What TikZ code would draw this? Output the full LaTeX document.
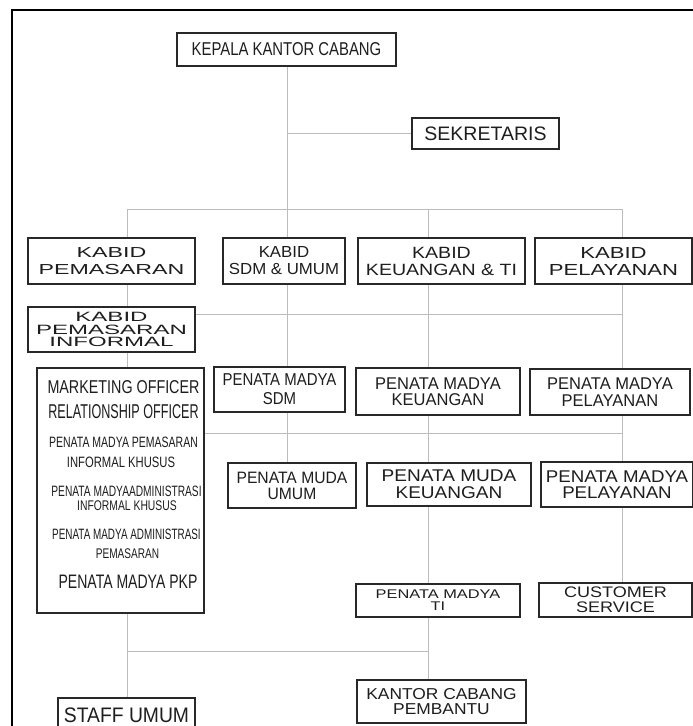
\documentclass[tikz,border=0pt]{standalone}
\usepackage{fontspec}
\setmainfont{Liberation Sans}
\usepackage{tikz}
\definecolor{boxLine}{RGB}{40,40,40}
\definecolor{linkGray}{RGB}{188,188,188}
\definecolor{inkGray}{RGB}{30,30,30}
\newcommand{\orgfont}[3]{\fontspec[FakeStretch=#1]{Liberation Sans}\fontsize{#2}{#3}\selectfont}
\tikzset{
  unit/.style={draw=boxLine, line width=1.4pt, fill=white, text=inkGray, align=center, inner sep=0pt},
  link/.style={draw=linkGray, line width=0.9pt},
  item/.style={anchor=base, inner sep=0pt, text=inkGray}
}

\begin{document}
\begin{tikzpicture}[x=1pt, y=-1pt]
	\useasboundingbox (0,0) rectangle (693,726);
	\clip (0,0) rectangle (693,726);
	\fill[white] (0,0) rectangle (693,726);
	\draw[black, line width=2pt] (12,10) rectangle (720,760);

	% top
	\node[unit, minimum width=219pt, minimum height=33pt, font=\orgfont{0.8}{18.6}{20}] (kepala) at (286.5,49.5) {KEPALA KANTOR CABANG};
	\node[unit, minimum width=147pt, minimum height=31pt, font=\orgfont{1.0}{19.5}{20}] (sekretaris) at (485.5,133.5) {SEKRETARIS};

	% kabid row
	\node[unit, minimum width=167pt, minimum height=46pt, font=\orgfont{1.6}{14.5}{17}] (kpem) at (111.5,261) {KABID\\PEMASARAN};
	\node[unit, minimum width=122pt, minimum height=46pt, font=\orgfont{1.05}{16}{17}] (ksdm) at (284,261) {KABID\\SDM \& UMUM};
	\node[unit, minimum width=167pt, minimum height=46pt, font=\orgfont{1.2}{16.3}{17}] (kkeu) at (441.5,261) {KABID\\KEUANGAN \& TI};
	\node[unit, minimum width=157pt, minimum height=46pt, font=\orgfont{1.38}{16}{17}] (kpel) at (613.5,261) {KABID\\PELAYANAN};
	\node[unit, minimum width=167pt, minimum height=45pt, font=\orgfont{1.78}{13.5}{12.6}] (kinf) at (111.5,329.5) {KABID\\PEMASARAN\\INFORMAL};

	% penata madya row
	\node[unit, minimum width=167pt, minimum height=245pt] (pemlist) at (120.5,490.5) {};
	\node[unit, minimum width=131pt, minimum height=45pt, font=\orgfont{0.87}{17.2}{19}] (pmsdm) at (279.5,389.5) {PENATA MADYA\\SDM};
	\node[unit, minimum width=164pt, minimum height=47pt, font=\orgfont{0.97}{17}{16.5}] (pmkeu) at (438,391.5) {PENATA MADYA\\KEUANGAN};
	\node[unit, minimum width=160pt, minimum height=46pt, font=\orgfont{0.97}{17}{16.5}] (pmpel) at (610,392) {PENATA MADYA\\PELAYANAN};

	% penata muda row
	\node[unit, minimum width=128pt, minimum height=45pt, font=\orgfont{0.95}{16.5}{16}] (pmumum) at (292,485.5) {PENATA MUDA\\UMUM};
	\node[unit, minimum width=164pt, minimum height=43pt, font=\orgfont{1.12}{17}{17}] (pmukeu) at (449,484.5) {PENATA MUDA\\KEUANGAN};
	\node[unit, minimum width=152pt, minimum height=45pt, font=\orgfont{1.1}{17}{16}] (pmpel2) at (617,484.5) {PENATA MADYA\\PELAYANAN};

	% lower
	\node[unit, minimum width=164pt, minimum height=33pt, font=\orgfont{1.3}{12.6}{11.8}] (pmti) at (438,600.5) {PENATA MADYA\\TI};
	\node[unit, minimum width=153pt, minimum height=34pt, font=\orgfont{1.18}{15.3}{14.6}] (cs) at (615.5,600) {CUSTOMER\\SERVICE};
	\node[unit, minimum width=169pt, minimum height=43pt, font=\orgfont{1.1}{15.8}{14.6}] (kcp) at (441.5,701.5) {KANTOR CABANG\\PEMBANTU};
	\node[unit, minimum width=137pt, minimum height=34pt, font=\orgfont{0.92}{21}{22}] (staff) at (126.5,715) {STAFF UMUM};

	% isi kotak pemasaran
	\node[item, font=\orgfont{0.77}{18.6}{20}] (po1) at (123.5,393) {MARKETING OFFICER};
	\node[item, font=\orgfont{0.63}{20}{20}] (po2) at (123.5,418) {RELATIONSHIP OFFICER};
	\node[item, font=\orgfont{0.7}{15}{15}] (po3) at (123.5,447) {PENATA MADYA PEMASARAN};
	\node[item, font=\orgfont{0.75}{15}{15}] (po4) at (121,467) {INFORMAL KHUSUS};
	\node[item, font=\orgfont{0.68}{15}{15}] (po5) at (126.5,496) {PENATA MADYAADMINISTRASI};
	\node[item, font=\orgfont{0.74}{14}{14}] (po6) at (127,510) {INFORMAL KHUSUS};
	\node[item, font=\orgfont{0.66}{15}{15}] (po7) at (126.5,539) {PENATA MADYA ADMINISTRASI};
	\node[item, font=\orgfont{0.72}{14}{14}] (po8) at (127.5,558) {PEMASARAN};
	\node[item, font=\orgfont{0.72}{19.5}{20}] (po9) at (128,588) {PENATA MADYA PKP};

	% garis
	\coordinate (colA) at (127,0);
	\coordinate (colB) at (287,0);
	\coordinate (colC) at (428,0);
	\coordinate (colD) at (622.5,0);
	\coordinate (busTop) at (0,209);
	\coordinate (rowA) at (0,314);
	\coordinate (rowB) at (0,433);
	\coordinate (rowC) at (0,651);

	\draw[link] (colB |- kepala.south) -- (colB |- ksdm.north);
	\draw[link] (colB |- sekretaris.west) -- (sekretaris.west);
	\draw[link] (colA |- busTop) -- (colD |- busTop);
	\draw[link] (colA |- busTop) -- (colA |- kpem.north);
	\draw[link] (colC |- busTop) -- (colC |- kkeu.north);
	\draw[link] (colD |- busTop) -- (colD |- kpel.north);
	\draw[link] (colA |- kpem.south) -- (colA |- kinf.north);
	\draw[link] (colA |- kinf.south) -- (colA |- pemlist.north);
	\draw[link] (colA |- pemlist.south) -- (colA |- staff.north);
	\draw[link] (kinf.east |- rowA) -- (colD |- rowA);
	\draw[link] (pemlist.east |- rowB) -- (colD |- rowB);
	\draw[link] (colA |- rowC) -- (colC |- rowC);
	\draw[link] (colB |- ksdm.south) -- (colB |- pmsdm.north);
	\draw[link] (colB |- pmsdm.south) -- (colB |- pmumum.north);
	\draw[link] (colC |- kkeu.south) -- (colC |- pmkeu.north);
	\draw[link] (colC |- pmkeu.south) -- (colC |- pmukeu.north);
	\draw[link] (colC |- pmukeu.south) -- (colC |- pmti.north);
	\draw[link] (colC |- pmti.south) -- (colC |- kcp.north);
	\draw[link] (colD |- kpel.south) -- (colD |- pmpel.north);
	\draw[link] (colD |- pmpel.south) -- (colD |- pmpel2.north);
	\draw[link] (colD |- pmpel2.south) -- (colD |- cs.north);
\end{tikzpicture}
\end{document}
